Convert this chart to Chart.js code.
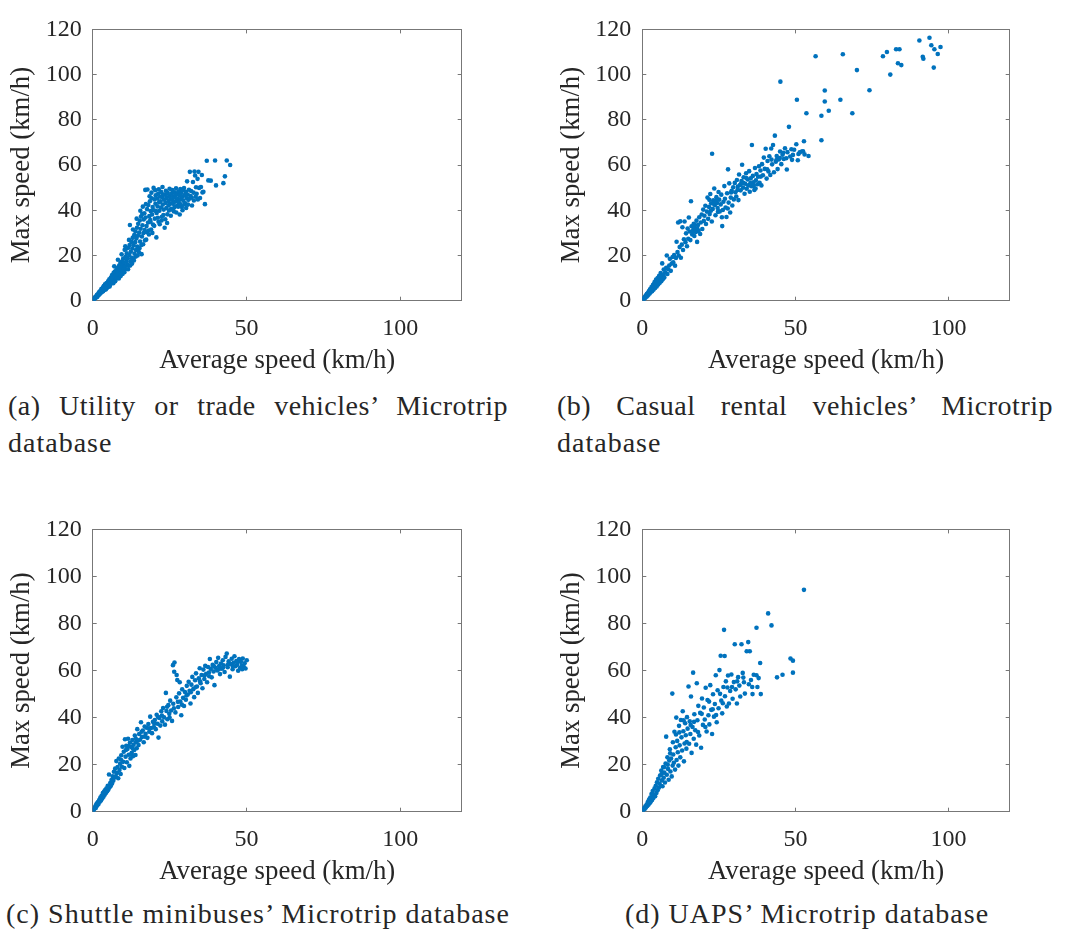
<!DOCTYPE html>
<html><head><meta charset="utf-8">
<script src="https://cdn.jsdelivr.net/npm/chart.js@4.4.0/dist/chart.umd.min.js"></script>
<style>
html,body{margin:0;padding:0;background:#fff;}
body{width:1081px;height:937px;position:relative;overflow:hidden;font-family:'Liberation Serif',serif;color:#262626;}
canvas{position:absolute;}
.cap{position:absolute;font-size:28px;line-height:37px;white-space:nowrap;letter-spacing:1px;}
.just{text-align:justify;text-align-last:justify;letter-spacing:0.5px;}
</style></head><body>
<canvas id="ca" width="540" height="380" style="left:0;top:0"></canvas>
<canvas id="cb" width="541" height="380" style="left:540px;top:0"></canvas>
<canvas id="cc" width="540" height="391" style="left:0;top:500px"></canvas>
<canvas id="cd" width="541" height="391" style="left:540px;top:500px"></canvas>
<div class="cap just" style="left:8px;top:387px;width:500px;">(a) Utility or trade vehicles’ Microtrip</div>
<div class="cap" style="left:8px;top:424px;">database</div>
<div class="cap just" style="left:557px;top:387px;width:496px;">(b) Casual rental vehicles’ Microtrip</div>
<div class="cap" style="left:557px;top:424px;">database</div>
<div class="cap" style="left:0px;top:895px;width:516px;text-align:center;">(c) Shuttle minibuses’ Microtrip database</div>
<div class="cap" style="left:557px;top:895px;width:500px;text-align:center;">(d) UAPS’ Microtrip database</div>
<script>
const xTicks = [0, 50, 100];
const yTicks = [0, 20, 40, 60, 80, 100, 120];
const xTitle = 'Average speed (km/h)';
const yTitle = 'Max speed (km/h)';

// (a) Utility or trade vehicles: [average speed, max speed]
const utilityPoints = [
[0.2,0.4],[0.4,0.9],[0.6,0.8],[0.7,1.5],[0.9,1.2],[1.1,1.9],[1.3,1.6],[1.4,2.6],[1.6,2.1],[1.8,3.2],[2.0,2.5],[2.1,3.8],[2.3,3.0],[2.5,4.4],[2.6,3.4],[2.8,5.1],[3.0,3.9],[3.1,4.6],[3.3,5.8],[3.4,4.2],[3.6,6.5],[3.7,5.0],[3.9,5.6],[4.0,7.2],[4.2,4.9],[4.3,6.1],[4.5,7.8],[4.6,5.6],[4.8,6.8],[5.0,8.6],[5.1,6.2],[5.3,7.4],[5.4,9.5],[5.6,7.0],[5.7,8.1],[5.9,10.2],[6.0,7.6],[6.2,8.8],[6.3,11.4],[6.5,8.0],[6.6,9.6],[6.8,12.3],[6.9,8.7],[7.1,10.4],[7.2,12.9],[7.4,9.3],[7.5,11.2],[7.7,13.6],[7.8,10.0],[8.0,12.1],[8.1,14.5],[8.3,10.6],[8.4,13.0],[8.6,15.6],[8.7,11.5],[8.9,13.8],[9.0,16.7],[9.2,12.2],[9.3,14.9],[9.5,17.3],[9.6,13.1],[9.8,15.8],[9.9,18.6],[10.1,14.0],[10.2,16.9],[10.4,22.5],[10.5,15.2],[10.7,19.5],[10.8,13.9],[11.0,17.6],[11.1,21.0],[11.3,16.1],[11.4,18.8],[11.6,23.4],[11.7,15.5],[11.9,20.2],[12.0,24.6],[12.1,33.5],[12.3,17.4],[12.4,21.7],[12.6,26.0],[12.7,19.0],[12.9,23.1],[13.0,27.8],[13.2,18.6],[13.3,24.5],[13.5,29.0],[13.6,20.8],[13.8,25.9],[13.9,30.6],[14.1,22.4],[14.2,27.5],[14.4,32.3],[14.5,23.9],[14.7,28.7],[14.8,34.0],[15.0,21.5],[15.1,30.1],[15.3,35.5],[15.4,26.2],[15.6,31.8],[15.7,37.2],[15.9,20.6],[16.0,28.4],[16.2,33.4],[16.3,41.6],[16.5,29.9],[16.6,35.9],[16.8,38.7],[16.9,31.3],[17.1,49.0],[17.2,36.8],[17.4,27.0],[17.5,33.0],[17.7,40.5],[17.8,49.2],[18.0,34.6],[18.1,42.3],[18.3,29.3],[18.4,37.4],[18.6,44.0],[18.7,35.7],[18.9,39.6],[19.0,31.5],[19.2,45.3],[19.3,38.1],[19.5,41.4],[19.6,33.7],[19.8,49.9],[19.9,40.0],[20.1,44.8],[20.2,36.3],[20.4,42.9],[20.5,46.6],[20.7,28.0],[20.8,38.8],[21.0,45.2],[21.1,41.7],[21.3,47.4],[21.4,34.9],[21.6,43.6],[21.7,39.8],[21.9,46.1],[22.0,44.0],[22.2,41.2],[22.3,48.1],[22.5,37.1],[22.6,45.8],[22.8,42.5],[22.9,47.0],[23.1,40.3],[23.2,44.7],[23.4,32.3],[23.5,46.9],[23.7,43.2],[23.8,48.6],[24.0,41.0],[24.1,45.5],[24.3,38.2],[24.4,47.7],[24.6,44.1],[24.7,42.2],[24.9,46.4],[25.0,49.5],[25.2,43.0],[25.3,45.0],[25.5,40.6],[25.6,47.3],[25.8,44.6],[25.9,48.9],[26.1,42.9],[26.2,46.2],[26.4,39.5],[26.5,45.7],[26.7,48.0],[26.8,43.8],[27.0,46.8],[27.1,49.7],[27.3,44.4],[27.4,42.0],[27.6,47.2],[27.7,45.1],[27.9,48.3],[28.0,43.5],[28.2,46.5],[28.3,38.1],[28.5,49.4],[28.6,44.9],[28.8,47.6],[29.0,41.5],[29.1,45.9],[29.3,48.8],[29.5,44.2],[29.7,49.8],[29.9,46.7],[30.1,43.1],[30.3,48.2],[30.5,45.4],[30.7,52.8],[30.9,47.0],[31.1,44.6],[31.3,49.1],[31.6,57.0],[31.8,46.3],[32.0,48.5],[32.3,42.1],[32.6,52.5],[32.8,47.8],[33.1,57.1],[33.3,55.4],[33.6,50.2],[33.8,47.3],[34.1,53.9],[34.4,57.0],[34.6,49.9],[34.9,45.4],[35.2,50.3],[35.5,55.6],[35.7,47.9],[36.0,48.2],[36.5,42.7],[37.1,61.9],[37.6,53.2],[38.4,53.1],[39.8,62.0],[40.1,51.0],[42.5,52.0],[43.0,55.0],[43.6,62.0],[44.7,60.0],
[1.5,1.7],[2.7,4.0],[3.5,5.1],[4.4,5.3],[5.5,6.3],[6.1,9.9],[6.7,7.7],[7.3,8.6],[7.9,11.7],[8.5,9.8],[9.1,10.9],[9.7,11.8],[10.3,12.6],[10.9,23.0],[11.5,13.9],[12.2,15.6],[12.8,16.4],[13.4,17.8],[14.0,19.5],[14.6,20.0],[15.2,23.2],[15.8,24.6],[16.4,25.0],[17.0,26.7],[17.6,30.3],[18.2,31.0],[18.8,34.9],[19.4,30.0],[20.0,33.1],[20.6,39.6],[21.2,36.7],[21.8,33.8],[22.4,35.5],[23.0,37.9],[23.6,36.0],[24.2,34.4],[24.8,39.9],[25.4,37.6],[26.0,40.2],[26.6,41.4],[27.2,39.0],[27.8,41.6],[28.4,42.8],[29.2,40.0],[29.8,42.7],[30.4,41.0],[31.0,42.5],[31.5,45.2],[32.2,45.6],[32.9,44.3],[33.5,46.0],[34.2,44.8],[16.1,38.3],[17.3,42.7],[18.5,46.2],[19.1,47.8],[20.3,48.9],[21.5,49.3],[22.7,50.3],[15.5,39.8],[14.3,36.3],[13.1,31.5],[11.8,26.9],[10.6,24.1],[9.4,20.5],[8.2,18.1],[7.0,15.2]
];

// (b) Casual rental vehicles
const rentalPoints = [
[0.3,0.5],[0.5,1.2],[0.7,0.9],[0.9,1.8],[1.0,1.3],[1.2,2.4],[1.4,1.8],[1.5,3.0],[1.7,2.2],[1.9,3.6],[2.0,2.6],[2.2,4.3],[2.4,3.2],[2.5,5.0],[2.7,3.7],[2.9,4.6],[3.0,6.0],[3.2,4.2],[3.4,5.3],[3.5,7.0],[3.7,4.9],[3.9,6.1],[4.0,8.2],[4.2,5.6],[4.4,7.1],[4.5,9.4],[4.7,6.3],[4.9,8.0],[5.0,10.0],[5.2,7.2],[5.4,8.9],[5.5,11.0],[5.7,7.9],[5.9,9.8],[6.0,12.2],[6.2,8.6],[6.4,10.6],[6.5,16.5],[6.7,9.5],[6.9,11.5],[7.0,13.8],[7.2,10.3],[7.5,12.6],[7.8,14.5],[8.0,20.0],[8.2,11.8],[8.5,13.9],[8.8,15.6],[9.0,18.5],[9.3,13.2],[9.6,16.4],[9.9,19.3],
[10.1,17.0],[10.4,20.2],[10.7,15.5],[11.0,18.9],[11.2,26.1],[11.5,21.5],[11.7,34.6],[11.9,20.0],[12.2,23.7],[12.4,35.1],[12.6,19.0],[12.9,24.8],[13.1,32.5],[13.3,22.4],[13.6,27.2],[13.8,35.0],[14.1,25.9],[14.3,29.8],[14.6,24.1],[14.8,31.9],[15.0,27.4],[15.2,36.8],[15.5,30.6],[15.7,26.8],[15.9,44.0],[16.1,32.9],[16.3,29.3],[16.6,31.2],[16.8,34.0],[17.0,28.6],[17.2,32.2],[17.5,30.4],[17.7,35.4],[17.9,26.0],[18.2,33.5],[18.4,30.9],[18.6,36.9],[18.9,29.5],[19.1,34.6],[19.4,38.1],[19.6,31.7],[19.9,40.3],
[20.1,35.3],[20.3,37.6],[20.6,42.0],[20.8,33.9],[21.1,39.4],[21.3,45.6],[21.5,36.2],[21.8,41.5],[22.0,38.3],[22.2,47.2],[22.5,43.1],[22.7,35.0],[22.8,65.0],[23.0,40.6],[23.2,44.4],[23.5,49.6],[23.7,42.3],[23.9,37.8],[24.2,45.8],[24.4,43.2],[24.6,41.0],[24.9,48.1],[25.1,44.7],[25.3,39.5],[25.6,42.6],[25.8,46.9],[26.1,33.0],[26.3,40.1],[26.5,43.8],[26.8,50.7],[27.0,45.1],[27.2,41.2],[27.5,37.0],[27.7,47.5],[28.0,58.1],[28.2,43.4],[28.4,51.9],[28.7,39.0],[28.9,45.6],[29.2,48.6],[29.4,42.1],[29.7,50.2],[29.9,44.8],
[30.2,52.1],[30.4,48.0],[30.7,46.1],[30.9,53.4],[31.2,50.5],[31.4,44.5],[31.6,55.8],[31.9,51.2],[32.1,48.8],[32.4,52.9],[32.6,60.1],[32.9,50.0],[33.1,54.6],[33.4,47.3],[33.6,51.7],[33.9,56.4],[34.1,49.5],[34.4,53.6],[34.6,51.0],[34.9,57.3],[35.1,48.2],[35.4,54.1],[35.6,50.6],[35.8,68.9],[36.1,55.2],[36.3,52.4],[36.6,49.0],[36.8,58.7],[37.1,53.3],[37.3,56.0],[37.6,51.5],[37.8,54.8],[38.1,59.5],[38.3,52.2],[38.6,57.6],[38.9,51.0],[39.1,60.4],[39.4,55.5],[39.7,63.3],[40.0,58.3],
[40.3,67.2],[40.6,54.0],[40.9,61.8],[41.2,57.2],[41.5,63.9],[41.8,55.6],[42.1,67.3],[42.4,60.3],[42.7,68.9],[43.0,56.8],[43.3,73.0],[43.6,61.5],[43.9,64.0],[44.2,58.2],[44.6,62.5],[45.0,66.0],[45.1,96.9],[45.4,60.4],[45.8,64.6],[46.2,62.7],[46.6,67.4],[47.0,63.0],[47.4,65.7],[47.9,76.9],[48.3,63.8],[48.7,67.0],[49.2,64.5],[49.6,66.8],[50.3,69.2],[50.5,88.9],[50.8,62.1],[51.4,65.6],[52.1,66.0],[52.5,66.1],[52.8,70.5],[53.0,64.7],[53.6,82.9],[54.3,64.0],
[56.6,108.1],[58.5,81.8],[58.5,71.0],[59.6,93.0],[59.6,88.1],[60.9,84.0],[64.7,88.9],[65.5,109.0],[68.6,82.9],[70.1,102.0],[74.2,93.1],[78.6,108.1],[79.9,110.0],[81.0,100.0],[82.9,111.2],[83.5,105.0],[84.0,111.2],[84.6,104.2],[90.5,115.1],[91.6,107.9],[91.8,107.0],[93.8,116.3],[94.4,113.0],[95.2,103.1],[95.4,111.2],[96.5,109.1],[97.4,112.2],
[16.4,30.1],[17.1,33.6],[18.0,31.8],[21.9,44.6],[22.4,39.8],[23.3,42.9],[24.0,44.1],[24.7,39.3],[26.0,36.9],[27.9,40.8],[29.0,47.9],[31.1,49.0],[32.2,51.6],[33.0,52.2],[34.0,54.3],[35.3,52.0],[36.4,50.8],[37.0,49.6],[38.7,54.9],[40.8,58.1],[42.2,62.4],[43.8,62.2],[44.9,63.1],[46.0,65.4],[47.2,58.0],[48.9,62.3],[51.0,64.9]
];

// (c) Shuttle minibuses
const shuttlePoints = [
[0.2,0.5],[0.4,1.0],[0.6,1.4],[0.8,2.2],[1.0,1.6],[1.1,2.8],[1.3,3.5],[1.5,2.6],[1.7,4.1],[1.9,3.3],[2.1,5.0],[2.3,4.2],[2.5,6.0],[2.7,4.8],[2.9,6.8],[3.1,5.6],[3.3,7.9],[3.5,6.4],[3.7,8.6],[3.9,7.2],[4.1,9.3],[4.3,8.0],[4.5,10.0],[4.7,8.7],[4.9,11.0],[5.1,9.4],[5.3,15.8],[5.5,10.4],[5.7,12.2],[5.9,11.0],[6.1,13.5],[6.3,12.0],[6.5,15.0],[6.7,13.2],[6.9,17.0],[7.1,14.5],[7.3,18.3],[7.5,15.1],[7.7,21.5],[7.9,16.4],[8.1,19.0],[8.3,14.2],[8.5,22.6],[8.7,17.7],[8.9,20.4],[9.1,16.0],[9.3,24.0],[9.5,19.1],[9.7,27.6],[9.9,21.2],
[10.1,25.5],[10.3,18.6],[10.5,30.8],[10.7,23.4],[10.9,28.0],[11.1,21.0],[11.3,26.7],[11.5,31.0],[11.7,24.2],[11.9,19.5],[12.1,29.3],[12.3,22.6],[12.5,27.5],[12.7,25.0],[12.9,30.5],[13.1,23.6],[13.3,28.5],[13.5,26.2],[13.7,32.4],[13.9,24.1],[14.1,29.6],[14.3,27.0],[14.5,35.1],[14.7,30.2],[14.9,28.3],[15.1,33.0],[15.4,30.6],[15.7,38.0],[16.0,31.8],[16.3,34.5],[16.6,29.5],[16.9,36.2],[17.2,33.1],[17.5,35.7],[17.8,31.4],[18.1,37.3],[18.4,34.0],[18.7,40.4],[19.0,35.6],[19.3,33.4],[19.6,38.2],[19.9,36.0],
[20.2,39.0],[20.5,35.1],[20.8,41.2],[21.1,37.4],[21.4,31.5],[21.7,39.8],[22.0,36.6],[22.3,42.7],[22.6,38.4],[22.9,44.1],[23.2,40.1],[23.5,37.0],[23.8,50.5],[24.0,42.8],[24.3,39.3],[24.6,45.3],[24.9,41.6],[25.2,47.2],[25.5,43.0],[25.8,38.6],[26.1,62.3],[26.2,45.9],[26.5,59.5],[26.6,63.4],[26.9,42.2],[27.2,48.6],[27.3,58.1],[27.5,56.0],[27.8,44.5],[28.1,50.3],[28.3,55.0],[28.5,46.8],[28.8,41.0],[29.1,52.0],[29.4,48.4],[29.7,44.9],[30.0,50.9],
[30.3,47.6],[30.6,53.5],[30.9,49.8],[31.2,55.2],[31.5,51.4],[31.8,46.0],[32.1,54.0],[32.4,57.3],[32.7,52.1],[33.0,48.7],[33.3,55.9],[33.6,58.8],[33.9,53.2],[34.2,50.5],[34.5,56.7],[34.8,61.0],[35.1,54.6],[35.4,58.1],[35.7,52.5],[36.0,60.4],[36.3,56.4],[36.6,62.0],[36.9,58.6],[37.2,55.0],[37.5,61.5],[37.8,59.2],[38.1,64.9],[38.4,60.7],[38.7,57.1],[39.0,62.4],[39.3,59.6],[39.6,53.8],[39.9,61.2],
[40.2,63.6],[40.5,60.0],[40.8,65.4],[41.1,61.9],[41.4,58.5],[41.7,63.0],[42.0,60.8],[42.3,64.4],[42.6,62.2],[42.9,59.4],[43.2,65.8],[43.6,67.2],[43.9,61.4],[44.2,63.9],[44.6,57.4],[44.9,62.8],[45.2,65.0],[45.5,60.6],[45.8,63.3],[46.1,66.1],[46.4,61.8],[46.7,64.0],[47.0,62.5],[47.3,59.9],[47.6,64.9],[47.9,61.1],[48.2,63.7],[48.5,62.0],[48.8,65.1],[49.1,61.6],[49.4,63.1],[49.7,60.9],[50.1,64.4],
[9.2,22.1],[10.8,26.2],[11.6,27.9],[12.4,24.3],[13.0,26.9],[14.0,31.1],[15.9,34.0],[17.0,31.9],[18.3,35.5],[20.0,37.5],[21.3,40.2],[22.5,40.9],[24.2,44.6],[25.0,40.0],[26.4,44.0],[27.7,46.7],[29.0,45.5],[30.5,49.4],[31.9,50.8],[33.4,52.9],[34.9,55.4],[36.4,58.0],[37.9,57.6],[39.4,61.9],[41.0,60.5],[42.4,61.3],[44.0,62.6],[45.6,61.8],[47.1,63.6],[48.6,60.6]
];

// (d) UAPS
const uapsPoints = [
[0.2,0.4],[0.4,1.0],[0.6,1.5],[0.8,1.2],[1.0,2.3],[1.2,1.8],[1.4,3.0],[1.6,2.4],[1.8,4.1],[2.0,3.0],[2.2,5.2],[2.4,3.6],[2.6,6.0],[2.8,4.3],[3.0,7.5],[3.2,5.0],[3.4,8.8],[3.6,5.8],[3.8,7.1],[4.0,9.9],[4.2,6.6],[4.4,11.0],[4.6,8.0],[4.8,12.5],[5.0,9.1],[5.2,14.0],[5.4,10.2],[5.6,12.0],[5.8,15.4],[6.0,11.0],[6.2,17.5],[6.4,13.3],[6.6,10.8],[6.8,19.0],[7.0,14.4],[7.2,16.6],[7.4,12.4],[7.6,20.5],[7.8,31.9],[8.0,15.7],[8.2,23.1],[8.4,18.2],[8.6,13.6],[8.8,21.8],[9.0,26.5],[9.2,17.1],[9.4,22.6],[9.6,15.0],[9.8,50.2],[9.9,19.6],
[10.1,24.3],[10.3,20.8],[10.5,34.0],[10.7,17.9],[10.9,27.4],[11.1,40.0],[11.2,22.0],[11.4,30.1],[11.6,25.3],[11.8,19.6],[12.0,36.5],[12.2,28.2],[12.4,23.1],[12.6,39.0],[12.8,31.6],[13.0,26.0],[13.2,42.7],[13.4,34.2],[13.6,21.4],[13.8,29.0],[14.0,37.6],[14.2,32.5],[14.4,26.8],[14.6,40.2],[14.8,35.3],[15.1,53.2],[15.3,28.9],[15.5,38.4],[15.7,33.0],[15.9,49.0],[16.1,25.0],[16.4,36.0],[16.6,59.1],[16.8,31.0],[17.0,41.4],[17.3,34.6],[17.6,28.5],[17.8,54.6],[18.0,38.9],[18.3,45.0],[18.6,32.4],[18.9,42.0],[19.2,27.2],[19.5,48.1],[19.8,36.9],
[20.1,44.3],[20.4,39.2],[20.7,52.7],[21.0,34.1],[21.3,47.5],[21.6,41.0],[21.9,37.1],[22.2,53.8],[22.5,43.3],[22.8,33.0],[23.1,49.9],[23.4,40.4],[23.7,45.8],[24.0,58.0],[24.3,38.0],[24.6,51.6],[24.9,44.0],[25.2,60.2],[25.6,66.3],[25.8,47.2],[26.1,41.8],[26.5,53.0],[26.7,77.3],[26.9,66.2],[27.0,49.1],[27.3,55.4],[27.6,44.7],[28.0,57.9],[28.3,46.0],[28.7,51.3],[29.1,58.3],[29.5,48.0],[29.9,55.1],
[30.2,71.2],[30.5,52.0],[30.9,46.0],[31.3,57.2],[31.7,53.6],[32.0,49.0],[32.4,71.2],[32.8,59.0],[33.2,55.0],[33.5,50.2],[34.1,68.2],[34.6,72.1],[35.1,68.2],[35.5,56.0],[35.9,53.0],[36.0,50.0],[36.4,58.2],[37.3,78.2],[37.3,58.0],[37.6,53.0],[38.0,56.8],[38.5,63.2],[38.7,50.0],[41.1,84.3],[42.2,79.2],[44.0,57.1],[45.8,58.2],[48.4,65.1],[49.2,64.2],[49.2,59.1],[52.8,94.3],
[6.3,16.0],[7.1,18.9],[8.3,20.0],[9.1,24.8],[10.0,29.5],[11.0,32.8],[12.1,33.7],[13.5,38.8],[14.5,29.6],[15.8,36.9],[16.9,38.2],[18.2,33.9],[19.4,41.6],[20.6,36.0],[21.8,46.8],[23.0,43.5],[24.1,41.1],[25.4,50.1],[26.3,46.1],[27.8,52.8],[29.3,53.0],[31.0,55.4],[33.0,57.0],[34.8,54.2]
];

const FONT = "'Liberation Serif', serif";
const BLUE = '#0072BD';
const AX = '#777777';
const TXT = '#262626';

function tickSetter(vals){ return s => { s.ticks = vals.map(v => ({value: v})); }; }

function makePanel(id, pts, L) {
  const inward = {drawOnChartArea:false, drawTicks:true, tickLength:-4, tickColor:AX, lineWidth:1};
  new Chart(document.getElementById(id), {
    type: 'scatter',
    data: { datasets: [{
      data: pts.map(p => ({x: p[0], y: p[1]})),
      backgroundColor: BLUE, borderColor: BLUE, borderWidth: 0,
      pointRadius: 2.3, pointHoverRadius: 2.3
    }]},
    options: {
      responsive: false, animation: false, devicePixelRatio: 1, events: [],
      layout: { padding: { top: L.top, right: L.right, left: 0, bottom: 0 } },
      plugins: { legend: {display:false}, tooltip: {enabled:false} },
      scales: {
        x: { type:'linear', position:'bottom', min:0, max:120,
          afterBuildTicks: tickSetter(xTicks),
          afterFit: s => { s.height = L.xh; },
          grid: inward, border: {display:true, color:AX, width:1},
          ticks: {font:{family:FONT, size:24}, color:TXT, padding:18, maxRotation:0, autoSkip:false},
          title: {display:true, text:xTitle, font:{family:FONT, size:26.8}, color:TXT, padding:{top:0, bottom:3}} },
        y: { type:'linear', position:'left', min:0, max:120,
          afterBuildTicks: tickSetter(yTicks),
          afterFit: s => { s.width = L.yw; },
          grid: inward, border: {display:true, color:AX, width:1},
          ticks: {font:{family:FONT, size:24}, color:TXT, padding:15, autoSkip:false},
          title: {display:true, text:yTitle, font:{family:FONT, size:26.8}, color:TXT, padding:{top:L.ytp, bottom:0}} },
        x2: { type:'linear', position:'top', min:0, max:120,
          afterBuildTicks: tickSetter(xTicks),
          afterFit: s => { s.height = 0; },
          grid: inward, border: {display:true, color:AX, width:1},
          ticks: {display:false} },
        y2: { type:'linear', position:'right', min:0, max:120,
          afterBuildTicks: tickSetter(yTicks),
          afterFit: s => { s.width = 0; },
          grid: inward, border: {display:true, color:AX, width:1},
          ticks: {display:false} }
      }
    }
  });
}

makePanel('ca', utilityPoints, {top:15, right:78.3, yw:92.7, xh:79.3, ytp:6.2});
makePanel('cb', rentalPoints,  {top:15, right:71.3, yw:102.3, xh:79.3, ytp:16.2});
makePanel('cc', shuttlePoints, {top:25, right:78.3, yw:92.7, xh:79.3, ytp:6.2});
makePanel('cd', uapsPoints,    {top:25, right:71.3, yw:102.3, xh:79.3, ytp:16.2});
</script>
</body></html>
